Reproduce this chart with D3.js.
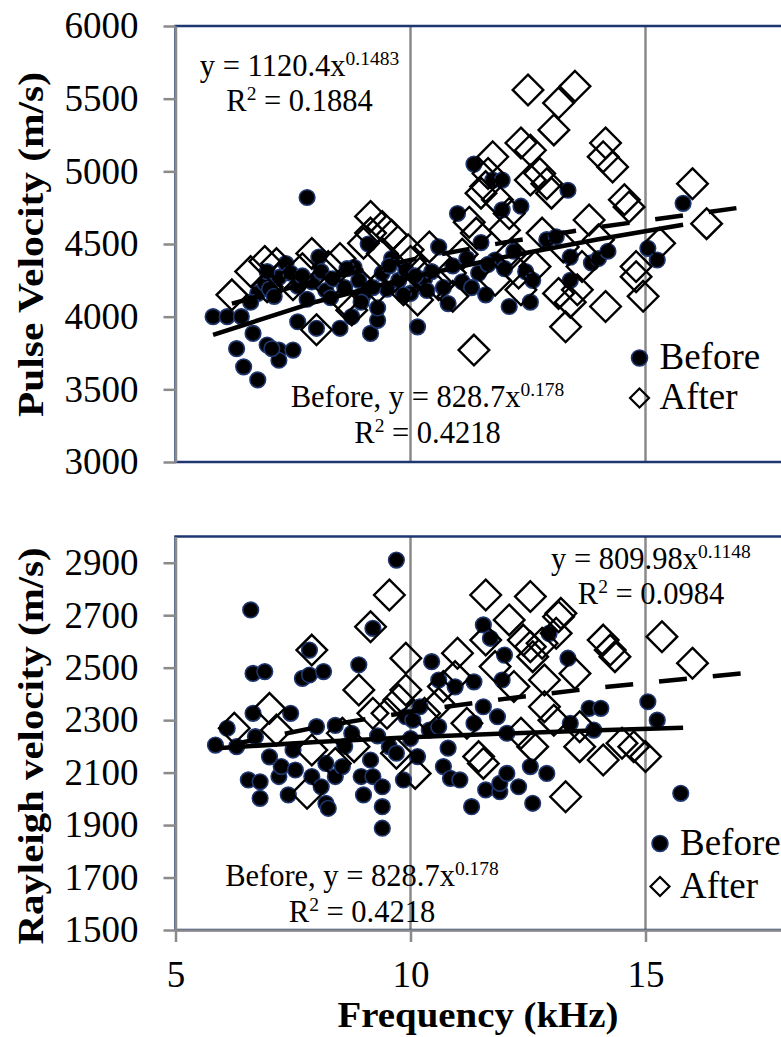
<!DOCTYPE html>
<html>
<head>
<meta charset="utf-8">
<script src="https://cdn.jsdelivr.net/npm/d3@7"></script>
<style>
	body { margin: 0; background: #fff; }
	svg { display: block; font-family: "Liberation Serif", "Times New Roman", serif; }
	text { white-space: pre; }
</style>
</head>
<body>
<div id="chart"></div>
<script>

// ------------------------ data ------------------------------

var freq_domain = [5, 20];
var freq_ticks = [5, 10, 15];
var freq_grid = [10, 15, 20];

var pulse_domain = [3000, 6000];
var pulse_ticks = [3000, 3500, 4000, 4500, 5000, 5500, 6000];

var rayleigh_domain = [1500, 3000];
var rayleigh_ticks = [1500, 1700, 1900, 2100, 2300, 2500, 2700, 2900];

var series_names = ["Before", "After"];

// pulse velocity, before  [frequency kHz, velocity m/s]
var pulse_before = [
	[5.8,4000],[6.1,4000],[6.4,4000],[6.3,3780],[6.45,3655],[6.75,3565],[6.65,3885],[6.95,3805],
	[7.2,3770],[7.2,3700],[7.5,3770],[7.05,3780],[6.75,4160],[6.6,4100],[6.9,4230],[7.0,4190],
	[7.35,4365],[7.2,4270],[7.1,4140],[7.45,4300],[7.6,4210],[7.6,3965],[7.8,4820],[7.9,4240],
	[8.0,3920],[8.05,4410],[8.1,4310],[8.2,4180],[7.8,4120],[8.35,4260],[8.5,3920],[8.6,4200],
	[8.75,4000],[8.8,4340],[8.9,4250],[9.1,4500],[9.0,4150],[9.15,3885],[9.3,3975],[9.3,4060],
	[9.4,4300],[9.5,4190],[9.6,4400],[9.75,4250],[9.9,4320],[10.0,4160],[10.15,3930],[10.3,4260],
	[10.45,4310],[10.6,4480],[10.8,4090],[10.9,4350],[11.0,4710],[11.1,4240],[11.2,4400],[11.35,5050],
	[11.45,4300],[11.5,4510],[11.6,4150],[11.75,4940],[11.8,4390],[11.95,4940],[11.95,4735],[12.1,4070],
	[12.2,4450],[12.35,4760],[12.45,4310],[12.55,4100],[12.6,4250],[12.9,4530],[13.1,4550],[13.35,4870],
	[13.4,4410],[13.4,4250],[13.85,4370],[14.0,4400],[14.2,4450],[15.05,4470],[15.25,4390],[15.8,4780],
	[8.3,4130],[8.65,4330],[9.2,4200],[9.55,4350],[9.85,4150],[10.1,4280],[10.35,4180],[10.7,4200],
	[11.3,4200],[11.65,4360],[12.0,4330],[8.95,4100],[7.7,4280],[6.95,4310]
];

// pulse velocity, after
var pulse_after = [
	[6.2,4150],[6.6,4310],[6.9,4380],[7.15,4365],[6.95,4205],[7.25,4275],[7.9,4435],[8.0,3910],
	[8.25,4345],[8.6,4115],[8.75,4045],[9.0,4505],[9.15,4690],[9.4,4620],[9.15,4575],[9.4,4435],
	[9.65,4275],[9.85,4185],[9.95,4460],[10.15,4115],[10.4,4480],[10.85,4300],[10.9,4140],[11.35,3770],
	[11.4,4575],[11.5,4850],[11.65,4985],[11.75,5100],[11.85,4805],[11.6,4895],[12.0,4595],[12.15,4435],
	[12.35,5195],[12.5,5560],[12.55,5145],[12.55,4940],[12.75,4985],[12.9,4915],[13.05,5285],[13.15,5470],
	[13.5,5585],[13.0,4850],[13.25,4480],[13.8,4665],[13.15,4160],[13.3,3930],[14.15,4070],[13.55,4185],
	[14.15,5195],[14.1,5100],[14.3,5030],[14.55,4805],[14.65,4755],[14.8,4275],[14.95,4140],[15.3,4505],
	[16.0,4915],[16.3,4640],[14.8,4345],[14.0,4530],[12.8,4575],[12.1,4710],[12.65,4345],[13.65,4345],
	[12.35,4185],[7.5,4220],[8.5,4400],[8.85,4250],[9.6,4560],[10.2,4300],[10.6,4220],[11.1,4430],
	[11.25,4650],[10.0,4380],[8.3,4200],[7.7,4330],[11.8,4250],[12.3,4300],[13.4,4100],[9.3,4200]
];

// trend lines
var pulse_before_trend = [[5.8,3875],[8,4103],[10,4270],[12,4410],[14,4533],[15.8,4632]];
var pulse_after_trend = [[6.2,4090],[8,4248],[10,4391],[12,4511],[14,4616],[17.3,4763]];

// rayleigh velocity, before
var rayleigh_before = [
	[5.85,2205],[6.1,2269],[6.3,2199],[6.6,2720],[6.65,2478],[6.9,2485],[6.65,2326],[6.55,2072],
	[6.8,2065],[6.8,2002],[6.7,2237],[7.2,2085],[7.4,2015],[7.45,2326],[7.25,2123],[7.55,2110],
	[7.5,2186],[7.7,2459],[7.85,2472],[8.15,2485],[7.85,2567],[8.0,2275],[7.9,2085],[8.1,2046],
	[8.2,1983],[8.25,1964],[8.2,2135],[8.4,2085],[8.55,2123],[8.75,2250],[8.9,2511],[8.95,2085],
	[9.0,2015],[9.2,2650],[9.15,2148],[9.2,2085],[9.4,2046],[9.4,1970],[9.4,1888],[9.7,2910],
	[9.55,2199],[9.7,2174],[9.85,2072],[9.9,2313],[10.05,2300],[10.15,2161],[10.2,2351],[10.45,2523],
	[10.4,2262],[10.6,2453],[10.6,2275],[10.7,2123],[10.85,2078],[10.8,2193],[10.95,2427],[11.05,2072],
	[11.3,1970],[11.35,2446],[11.55,2663],[11.7,2612],[11.6,2034],[11.9,2027],[11.9,2059],[11.95,2453],
	[12.0,2548],[12.05,2097],[12.3,2046],[12.55,2123],[12.6,1983],[11.85,2313],[12.05,2250],[12.9,2097],
	[12.95,2631],[13.35,2536],[13.4,2288],[13.8,2345],[14.05,2345],[13.9,2262],[15.05,2370],[15.25,2300],
	[15.75,2021],[11.55,2351],[11.35,2288],[8.6,2200],[9.3,2240],[7.0,2160],[10.0,2230],[8.4,2280]
];

// rayleigh velocity, after
var rayleigh_after = [
	[6.25,2269],[7.0,2345],[7.15,2262],[7.9,2567],[7.8,2021],[7.9,2186],[8.4,2135],[8.8,2199],
	[8.9,2415],[9.15,2656],[9.55,2777],[9.5,2326],[9.75,2377],[9.9,2415],[9.9,2536],[9.7,2174],
	[10.1,2097],[10.3,2326],[10.6,2364],[11.0,2555],[10.95,2466],[11.45,2161],[11.55,2135],[11.6,2777],
	[11.6,2605],[11.8,2504],[12.1,2682],[12.2,2428],[12.35,2250],[12.4,2605],[12.55,2771],[12.55,2580],
	[12.6,2542],[12.8,2593],[12.85,2453],[13.1,2631],[13.15,2694],[13.2,2707],[13.3,2008],[13.5,2478],
	[13.6,2275],[14.1,2605],[14.25,2567],[14.35,2542],[14.1,2148],[14.75,2199],[15.0,2161],[15.35,2618],
	[16.0,2517],[12.85,2351],[12.6,2199],[11.2,2288],[10.7,2428],[9.2,2326],[8.55,2250],[13.6,2199],
	[14.5,2212],[13.05,2300]
];

var rayleigh_before_trend = [[5.8,2192],[8,2217],[10,2235],[12,2249],[14,2261],[15.8,2271]];
var rayleigh_after_trend = [[6.2,2207],[8,2273],[10,2332],[12,2381],[14,2424],[17.3,2483]];

// equation labels: [text, superscript?]
var pulse_after_eq = [["y = 1120.4x", 0], ["0.1483", 1]];
var pulse_after_r2 = [["R", 0], ["2", 1], [" = 0.1884", 0]];
var rayleigh_after_eq = [["y = 809.98x", 0], ["0.1148", 1]];
var rayleigh_after_r2 = [["R", 0], ["2", 1], [" = 0.0984", 0]];
var before_eq = [["Before, y = 828.7x", 0], ["0.178", 1]];
var before_r2 = [["R", 0], ["2", 1], [" = 0.4218", 0]];


// ------------------------ chart ------------------------------

var svg = d3.select("#chart").append("svg")
		.attr("width", 781)
		.attr("height", 1037)
		.attr("viewBox", "0 0 781 1037");

var navy = "#1f3770",
	grey = "#8a8a8a";

var diamond = function(s) { return "M0," + (-s) + "L" + s + ",0L0," + s + "L" + (-s) + ",0Z"; };

// text with superscripts
var add_label = function(g, x, y, parts, size) {
	var t = g.append("text")
			.attr("x", x).attr("y", y)
			.attr("text-anchor", "middle")
			.attr("font-size", size)
			.attr("fill", "#000");
	var lift = size * 0.36;
	parts.forEach(function(p, i) {
		var dy = 0;
		if (p[1]) dy = -lift;
		else if (i > 0 && parts[i - 1][1]) dy = lift;
		t.append("tspan")
			.attr("dy", dy)
			.attr("font-size", p[1] ? size * 0.64 : size)
			.text(p[0]);
	});
};

var build_panel = function(panel) {

	// set the dimensions of the plot area
	var margin = { top: panel.top, left: 175.5 },
		width = 705,
		height = panel.height;

	// set the ranges
	var x = d3.scaleLinear().domain(freq_domain).range([0, width]);
	var y = d3.scaleLinear().domain(panel.domain).range([height, 0]);

	var g = svg.append("g")
			.attr("transform", "translate(" + margin.left + "," + margin.top + ")");

	// vertical gridlines
	g.append("g").selectAll("line")
			.data(freq_grid)
			.enter().append("line")
				.attr("x1", function(d) { return x(d); })
				.attr("x2", function(d) { return x(d); })
				.attr("y1", 0)
				.attr("y2", height)
				.attr("stroke", grey)
				.attr("stroke-width", 2.5);

	// plot area border
	g.append("rect")
			.attr("width", width)
			.attr("height", height)
			.attr("fill", "none")
			.attr("stroke", navy)
			.attr("stroke-width", 2.5);

	// before markers
	g.append("g").selectAll("circle")
			.data(panel.before)
			.enter().append("circle")
				.attr("cx", function(d) { return x(d[0]); })
				.attr("cy", function(d) { return y(d[1]); })
				.attr("r", 7.8)
				.attr("fill", "#000")
				.attr("stroke", navy)
				.attr("stroke-width", 1.6);

	// after markers
	g.append("g").selectAll("path")
			.data(panel.after)
			.enter().append("path")
				.attr("transform", function(d) { return "translate(" + x(d[0]) + "," + y(d[1]) + ")"; })
				.attr("d", diamond(15.3))
				.attr("fill", "none")
				.attr("stroke", "#000")
				.attr("stroke-width", 2.4);

	// trend lines
	var line = d3.line()
			.x(function(d) { return x(d[0]); })
			.y(function(d) { return y(d[1]); });
	g.append("path")
			.datum(panel.beforeTrend)
			.attr("d", line)
			.attr("fill", "none")
			.attr("stroke", "#000")
			.attr("stroke-width", 4.5);
	g.append("path")
			.datum(panel.afterTrend)
			.attr("d", line)
			.attr("fill", "none")
			.attr("stroke", "#000")
			.attr("stroke-width", 4.5)
			.attr("stroke-dasharray", "28,26");

	// add the y Axis
	var axisY = g.append("g")
			.call(d3.axisLeft(y).tickValues(panel.ticks).tickSize(12).tickSizeOuter(0).tickPadding(25).tickFormat(d3.format("d")));
	axisY.attr("font-family", null).attr("font-size", null);
	axisY.select(".domain").attr("stroke", grey).attr("stroke-width", 2.5);
	axisY.selectAll(".tick line").attr("stroke", grey).attr("stroke-width", 2.5);
	axisY.selectAll(".tick text").attr("font-size", 37).attr("fill", "#000");

	// add the x Axis
	if (panel.xAxis) {
		var axisX = g.append("g")
				.attr("transform", "translate(0," + height + ")")
				.call(d3.axisBottom(x).tickValues(freq_ticks).tickSize(12).tickSizeOuter(0).tickPadding(19).tickFormat(d3.format("d")));
		axisX.attr("font-family", null).attr("font-size", null);
		axisX.select(".domain").attr("stroke", grey).attr("stroke-width", 2.5);
		axisX.selectAll(".tick line").attr("stroke", grey).attr("stroke-width", 2.5);
		axisX.selectAll(".tick text").attr("font-size", 37).attr("fill", "#000");
	}

	// equation labels
	panel.labels.forEach(function(l) { add_label(g, l.x, l.y, l.parts, 30.5); });

	// legend
	var leg = g.append("g").attr("transform", "translate(" + panel.legend[0] + "," + panel.legend[1] + ")");
	leg.append("circle")
			.attr("cx", 0).attr("cy", 0).attr("r", 8)
			.attr("fill", "#000").attr("stroke", navy).attr("stroke-width", 1.6);
	leg.append("path")
			.attr("transform", "translate(0," + panel.legendGap + ")")
			.attr("d", diamond(9.5))
			.attr("fill", "none").attr("stroke", "#000").attr("stroke-width", 2.2);
	leg.selectAll("text")
			.data(series_names)
			.enter().append("text")
				.attr("x", 20)
				.attr("y", function(d, i) { return 11 + i * panel.legendGap; })
				.attr("font-size", 37)
				.text(function(d) { return d; });

	// axis title
	svg.append("text")
			.attr("transform", "translate(43," + panel.titleY + ") rotate(-90)")
			.attr("text-anchor", "middle")
			.attr("font-weight", "bold")
			.attr("font-size", 36)
			.attr("textLength", panel.titleLength)
			.attr("lengthAdjust", "spacingAndGlyphs")
			.text(panel.title);
};

build_panel({
	top: 26, height: 436,
	domain: pulse_domain, ticks: pulse_ticks,
	before: pulse_before, after: pulse_after,
	beforeTrend: pulse_before_trend, afterTrend: pulse_after_trend,
	xAxis: false,
	labels: [
		{ x: 124, y: 50, parts: pulse_after_eq },
		{ x: 124, y: 85, parts: pulse_after_r2 },
		{ x: 252, y: 381, parts: before_eq },
		{ x: 252, y: 417, parts: before_r2 }
	],
	legend: [464, 332], legendGap: 40,
	title: "Pulse Velocity (m/s)", titleY: 244.5, titleLength: 345
});

build_panel({
	top: 536.5, height: 393.5,
	domain: rayleigh_domain, ticks: rayleigh_ticks,
	before: rayleigh_before, after: rayleigh_after,
	beforeTrend: rayleigh_before_trend, afterTrend: rayleigh_after_trend,
	xAxis: true,
	labels: [
		{ x: 475.5, y: 32.5, parts: rayleigh_after_eq },
		{ x: 475.5, y: 67.5, parts: rayleigh_after_r2 },
		{ x: 186.5, y: 349.5, parts: before_eq },
		{ x: 186.5, y: 385.5, parts: before_r2 }
	],
	legend: [484.5, 307], legendGap: 43,
	title: "Rayleigh velocity (m/s)", titleY: 746, titleLength: 397
});

// x axis title
svg.append("text")
		.attr("x", 478)
		.attr("y", 1027)
		.attr("text-anchor", "middle")
		.attr("font-weight", "bold")
		.attr("font-size", 36)
		.attr("textLength", 281)
		.attr("lengthAdjust", "spacingAndGlyphs")
		.text("Frequency (kHz)");

</script>
</body>
</html>
